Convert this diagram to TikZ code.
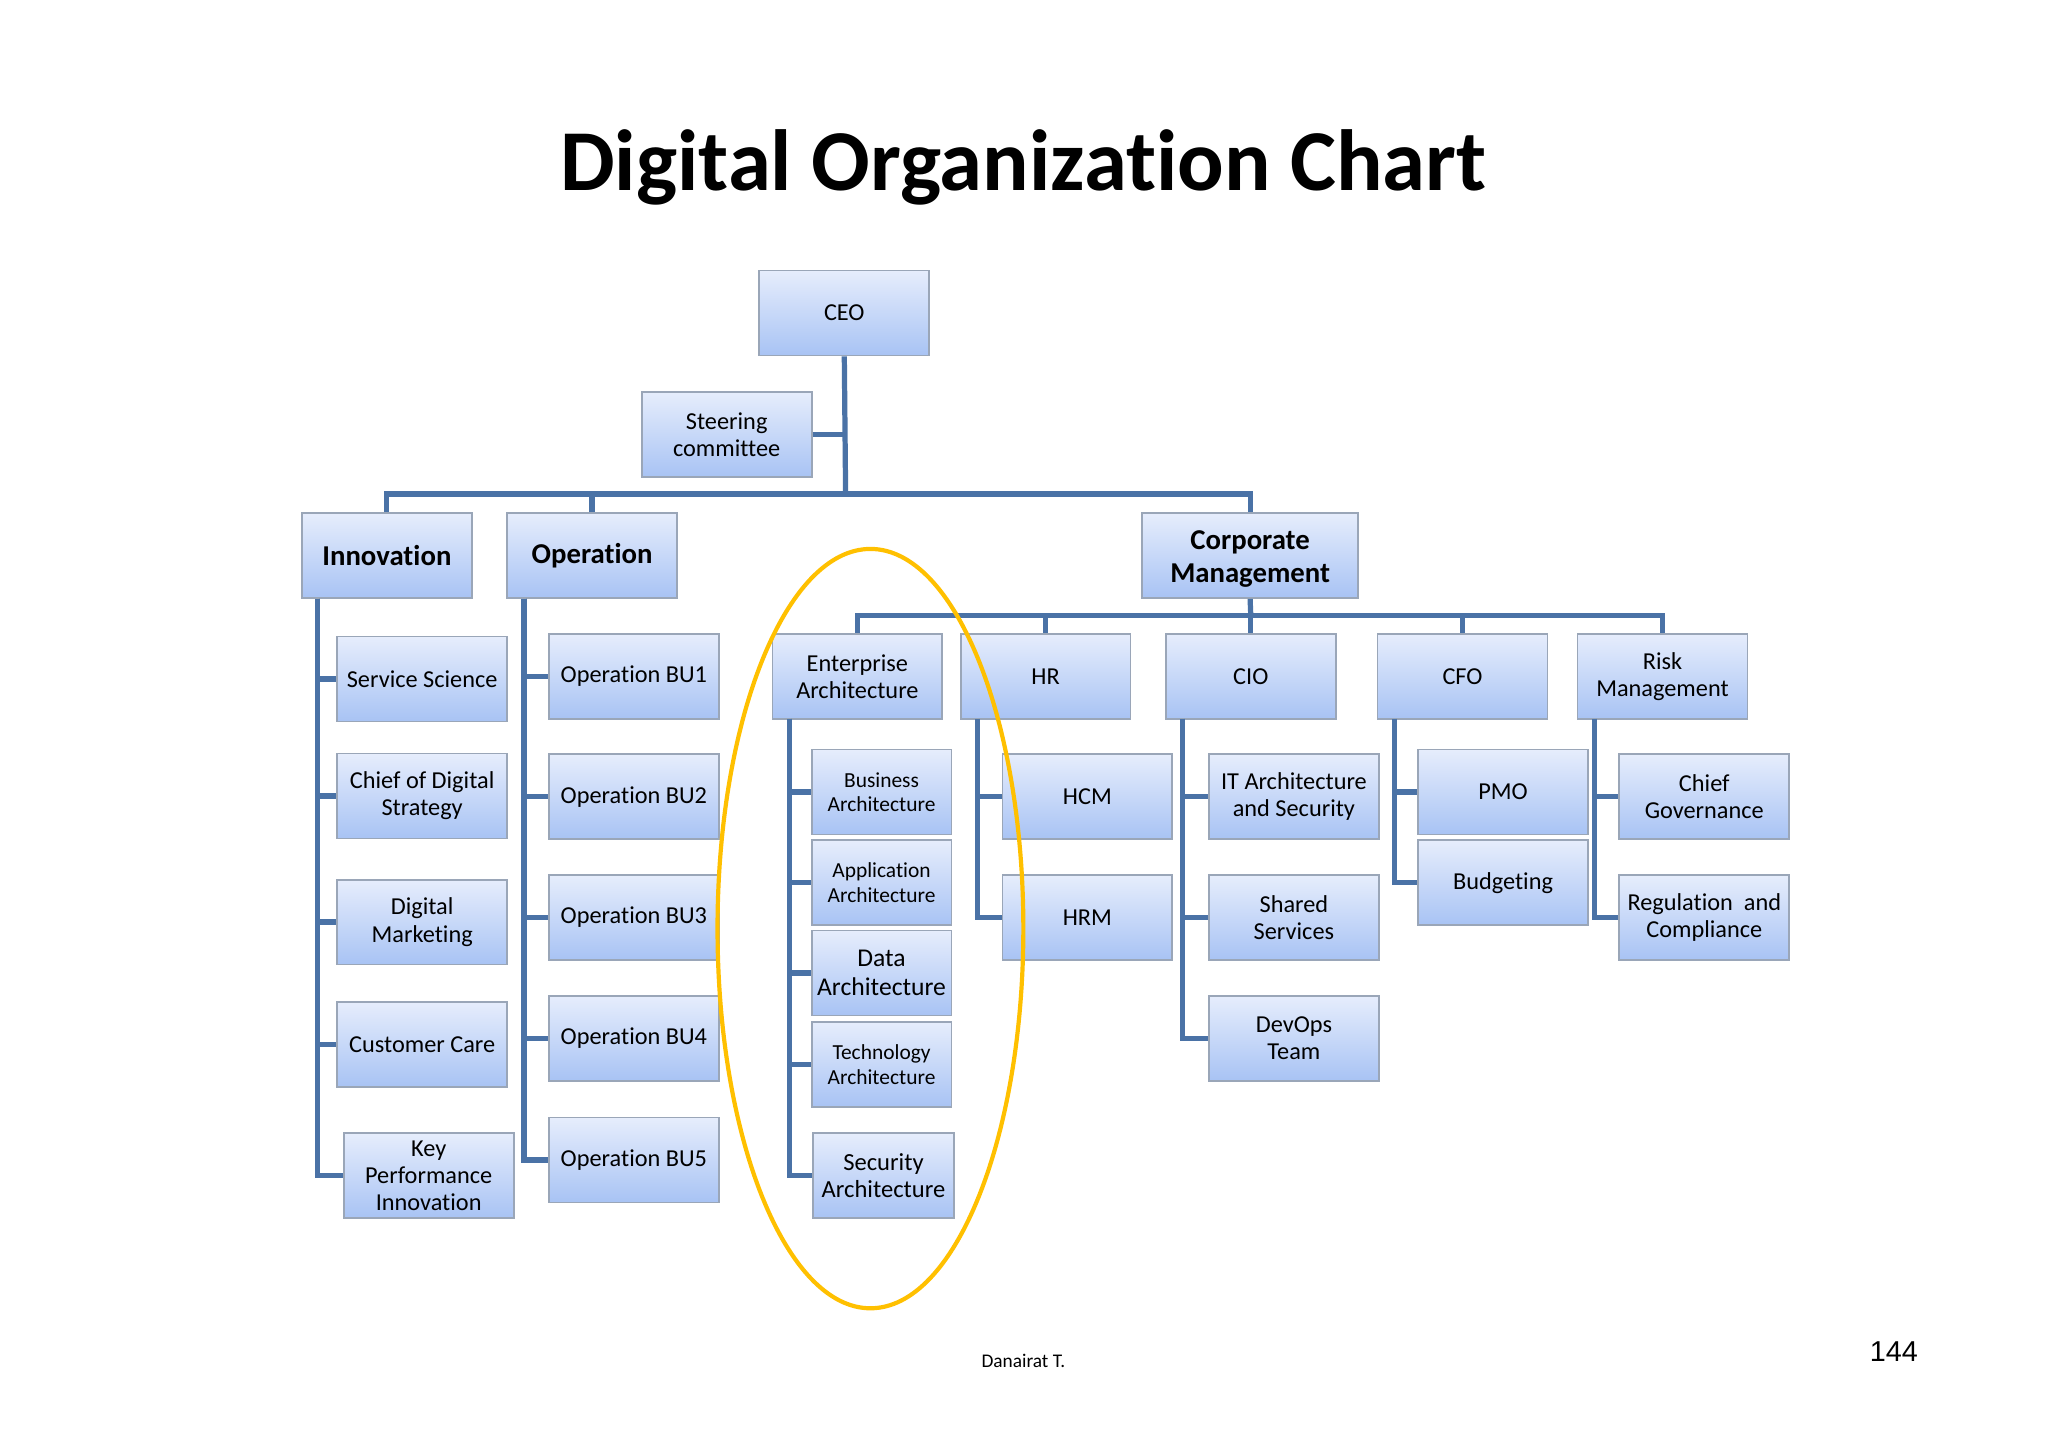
\documentclass[tikz,border=0pt]{standalone}
\usepackage{fontspec}
\setmainfont{Carlito}[RawFeature={-liga;-clig;-dlig;-calt}]
\newfontfamily\arialf{Liberation Sans}
\begin{document}
\begin{tikzpicture}[x=0.5pt,y=-0.5pt,
  box/.style={draw=boxedge, line width=0.7pt, top color=boxtop, bottom color=boxbot,
    minimum width=65pt, minimum height=32.5pt, inner sep=1pt, align=center,
    font=\fontsize{9.3}{10.4}\selectfont, text=black},
  headbox/.style={box, font=\bfseries\fontsize{11}{12.6}\selectfont},
  smallbox/.style={box, minimum width=53.5pt, font=\fontsize{8.2}{9.4}\selectfont},
  conn/.style={draw=connblue, line width=2pt},
  ring/.style={draw=ringgold, line width=1.6pt}]
\definecolor{boxtop}{HTML}{E6EDFC}
\definecolor{boxbot}{HTML}{A8C3F4}
\definecolor{boxedge}{HTML}{9AA6B8}
\definecolor{connblue}{HTML}{4A72A6}
\definecolor{ringgold}{HTML}{FFC000}
\useasboundingbox[fill=white] (0,0) rectangle (1567,1108);

% title
\node[anchor=base, font=\bfseries\fontsize{33.2}{36}\selectfont] (title) at (783,146) {Digital Organization Chart};

% top level
\node[box] (ceo) at (646,239.5) {CEO};
\node[box] (steer) at (556,332.5) {Steering\\committee};
\node[headbox] (innov) at (296,425) {Innovation};
\node[headbox] (oper) at (453,425) {Operation};
\node[headbox, minimum width=82.5pt] (corp) at (956.5,425) {\raisebox{-1.2pt}[\height][\depth]{\parbox{80pt}{\centering Corporate\\Management}}};

\coordinate (bus) at (647,378);
\draw[conn] (ceo.south) -- (bus);
\draw[conn] (steer.east) -- (steer.east -| bus);
\draw[conn] (innov.north) |- (bus);
\draw[conn] (oper.north) |- (bus);
\draw[conn] (corp.north) |- (bus);

% Innovation branch
\node[box] (ss) at (323,519.5) {Service Science};
\node[box] (cds) at (323,609) {Chief of Digital\\Strategy};
\node[box] (dm) at (323,705.5) {Digital\\Marketing};
\node[box] (cc) at (323,799) {Customer Care};
\node[box] (kpi) at (328,899.5) {Key\\Performance\\Innovation};
\coordinate (innovtrunk) at (243,458);
\foreach \c in {ss,cds,dm,cc,kpi} \draw[conn] (innovtrunk) |- (\c.west);

% Operation branch
\node[box] (bu1) at (485,517.5) {Operation BU1};
\node[box] (bu2) at (485,609.5) {Operation BU2};
\node[box] (bu3) at (485,702) {Operation BU3};
\node[box] (bu4) at (485,794.5) {Operation BU4};
\node[box] (bu5) at (485,887.5) {Operation BU5};
\coordinate (opertrunk) at (401,458);
\foreach \c in {bu1,bu2,bu3,bu4,bu5} \draw[conn] (opertrunk) |- (\c.west);

% Corporate branch
\node[box] (ea) at (656,517.5) {Enterprise\\Architecture};
\node[box] (hr) at (800,517.5) {HR};
\node[box] (cio) at (957,517.5) {CIO};
\node[box] (cfo) at (1119,517.5) {CFO};
\node[box] (risk) at (1272,517.5) {Risk\\Management};
\coordinate (cbus) at (957,471);
\draw[conn] (corp.south) -- (cbus);
\foreach \c in {ea,hr,cio,cfo,risk} \draw[conn] (\c.north) |- (cbus);

% EA children
\node[smallbox] (ba) at (674.5,606) {Business\\Architecture};
\node[smallbox] (aa) at (674.5,675.5) {Application\\Architecture};
\node[smallbox, font=\fontsize{9.8}{11}\selectfont] (da) at (674.5,744.5) {Data\\Architecture};
\node[smallbox] (ta) at (674.5,814.5) {Technology\\Architecture};
\node[smallbox, minimum width=54pt, font=\fontsize{9.4}{10.5}\selectfont] (sa) at (676,899.5) {Security\\Architecture};
\coordinate (eatrunk) at (604,550);
\foreach \c in {ba,aa,da,ta,sa} \draw[conn] (eatrunk) |- (\c.west);

% HR children
\node[box] (hcm) at (832,609.5) {HCM};
\node[box] (hrm) at (832,702) {HRM};
\coordinate (hrtrunk) at (748,550);
\foreach \c in {hcm,hrm} \draw[conn] (hrtrunk) |- (\c.west);

% CIO children
\node[box] (itas) at (990,609.5) {IT Architecture\\and Security};
\node[box] (shs) at (990,702) {Shared\\Services};
\node[box] (devops) at (990,794.5) {DevOps\\Team};
\coordinate (ciotrunk) at (905,550);
\foreach \c in {itas,shs,devops} \draw[conn] (ciotrunk) |- (\c.west);

% CFO children
\node[box] (pmo) at (1150,606) {PMO};
\node[box] (budg) at (1150,675.5) {Budgeting};
\coordinate (cfotrunk) at (1067,550);
\foreach \c in {pmo,budg} \draw[conn] (cfotrunk) |- (\c.west);

% Risk children
\node[box] (cgov) at (1304,609.5) {Chief\\Governance};
\node[box] (regc) at (1304,702) {Regulation~~and\\Compliance};
\coordinate (risktrunk) at (1220,550);
\foreach \c in {cgov,regc} \draw[conn] (risktrunk) |- (\c.west);

% highlight ring
\draw[ring] (666,710.5) ellipse [x radius=117, y radius=290.5];

% footer
\node[font=\fontsize{7.4}{9}\selectfont] (author) at (783,1041) {Danairat T.};
\node[font=\arialf\fontsize{11}{13}\selectfont] (page) at (1449,1034) {144};
\end{tikzpicture}
\end{document}
